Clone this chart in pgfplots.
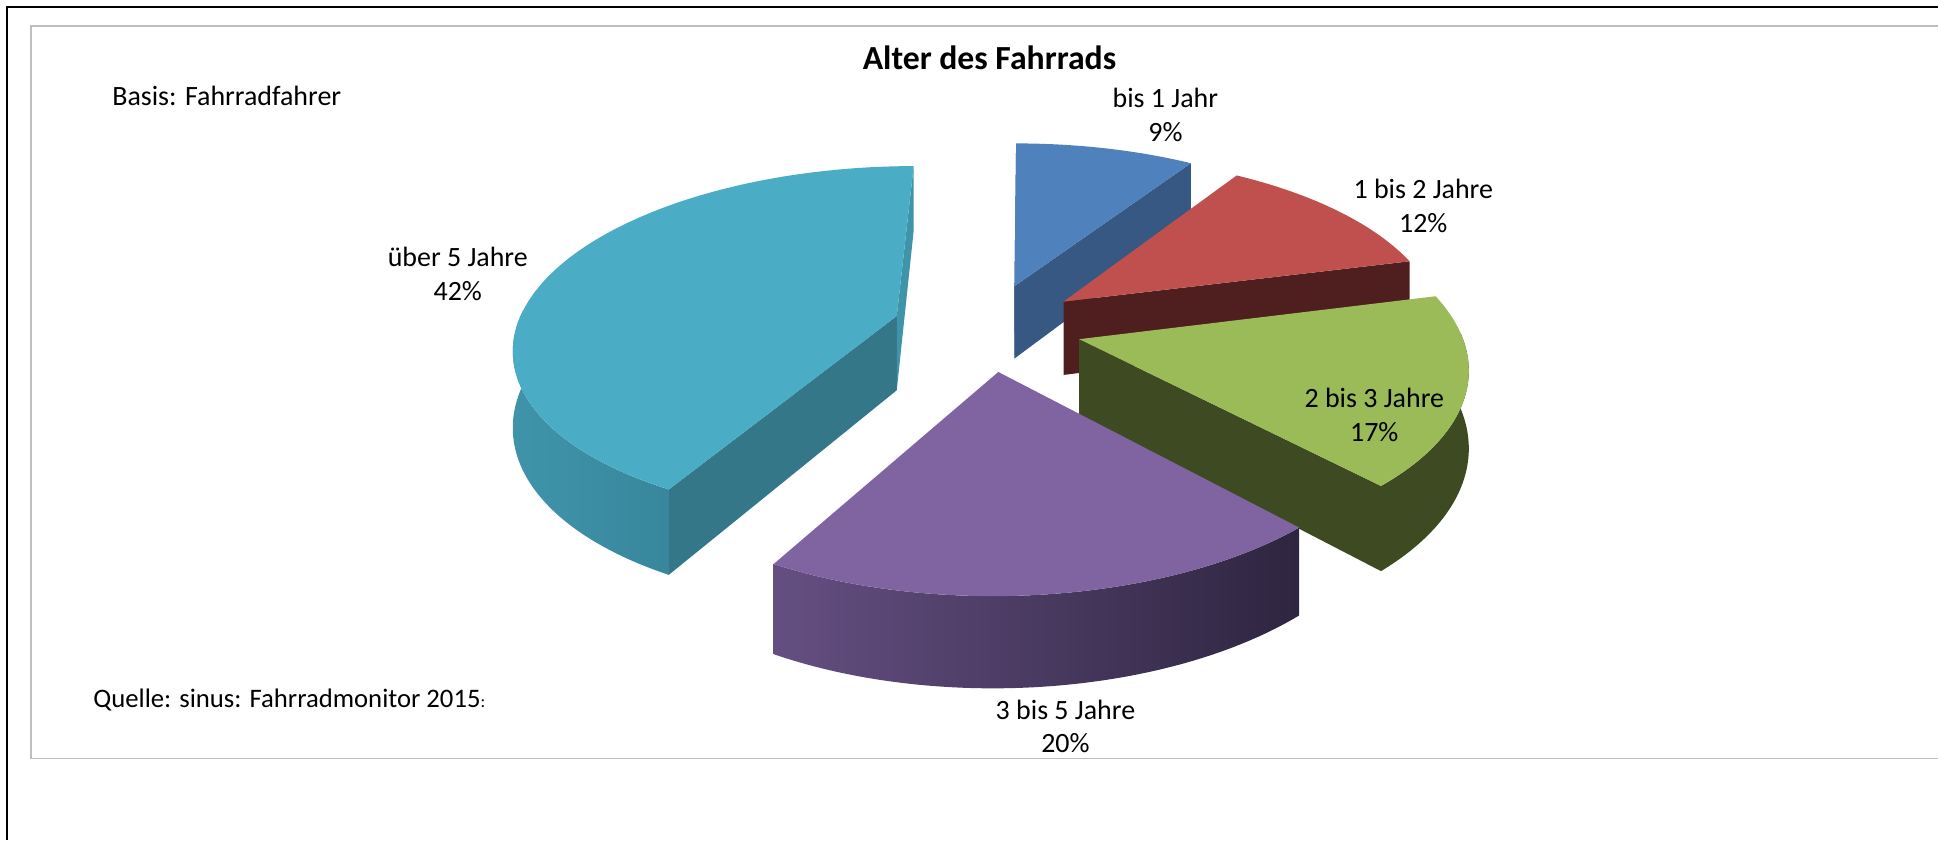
\documentclass[border=0pt]{standalone}
\usepackage{pgfplots}
\pgfplotsset{compat=1.18}
\usepackage{pgfplotstable}
\usepackage{fontspec}
\setmainfont{Carlito}

\definecolor{cBlue}{HTML}{4F81BD}
\definecolor{cBlueD}{HTML}{365882}
\definecolor{cRed}{HTML}{C0504D}
\definecolor{cRedD}{HTML}{4F1F20}
\definecolor{cGreen}{HTML}{9BBB59}
\definecolor{cGreenD}{HTML}{3E4B22}
\definecolor{cPurple}{HTML}{8064A2}
\definecolor{cPurpleL}{HTML}{654F82}
\definecolor{cPurpleD}{HTML}{2E2540}
\definecolor{cCyan}{HTML}{4BACC6}
\definecolor{cCyanD}{HTML}{347788}
\definecolor{cCyanL}{HTML}{3F94AA}
\definecolor{cCyanM}{HTML}{38879C}
\definecolor{frameGray}{HTML}{BEBEBE}

\pgfplotstableread{
idx value
0 9
1 12
2 17
3 20
4 42
}\piedata

\tikzset{declare function={
  pieX(\pX,\pZ)=988+380*\pX/(1+0.15*\pZ)-40*(1/(1+0.15*\pZ)-1);
  pieY(\pZ,\pH)=327+(-175.5*\pZ+75*\pH)/(1+0.15*\pZ);
  offX(\pa,\pb)=0.25*sin((\pa+\pb)/2);
  offZ(\pa,\pb)=0.25*cos((\pa+\pb)/2);
  rimX(\pa,\pb,\pt,\pr)=pieX(offX(\pa,\pb)+\pr*sin(\pt),offZ(\pa,\pb)+\pr*cos(\pt));
  rimY(\pa,\pb,\pt,\pr,\ph)=pieY(offZ(\pa,\pb)+\pr*cos(\pt),\ph);
}}

% top face of a slice from angle #1 to #2
\newcommand\slicetop[3]{%
  \path[#3] (axis cs:{rimX(#1,#2,0,0)},{rimY(#1,#2,0,0,0)})
    -- plot[domain=#1:#2,samples=60,variable=\t] (axis cs:{rimX(#1,#2,\t,1)},{rimY(#1,#2,\t,1,0)})
    -- cycle;}
% radial face at angle #3
\newcommand\sliceface[4]{%
  \path[#4] (axis cs:{rimX(#1,#2,0,0)},{rimY(#1,#2,0,0,0)})
    -- (axis cs:{rimX(#1,#2,#3,1)},{rimY(#1,#2,#3,1,0)})
    -- (axis cs:{rimX(#1,#2,#3,1)},{rimY(#1,#2,#3,1,1)})
    -- (axis cs:{rimX(#1,#2,0,0)},{rimY(#1,#2,0,0,1)})
    -- cycle;}
% curved outer side between #3 and #4
\newcommand\sliceband[5]{%
  \path[#5] plot[domain=#3:#4,samples=50,variable=\t] (axis cs:{rimX(#1,#2,\t,1)},{rimY(#1,#2,\t,1,0)})
    -- plot[domain=#4:#3,samples=50,variable=\t] (axis cs:{rimX(#1,#2,\t,1)},{rimY(#1,#2,\t,1,1)})
    -- cycle;}

\begin{document}%
\begin{tikzpicture}
\pgfplotstablegetelem{0}{value}\of\piedata\let\vA\pgfplotsretval
\pgfplotstablegetelem{1}{value}\of\piedata\let\vB\pgfplotsretval
\pgfplotstablegetelem{2}{value}\of\piedata\let\vC\pgfplotsretval
\pgfplotstablegetelem{3}{value}\of\piedata\let\vD\pgfplotsretval
\pgfplotstablegetelem{4}{value}\of\piedata\let\vE\pgfplotsretval
\pgfmathsetmacro\aA{0}
\pgfmathsetmacro\aB{\aA+3.6*\vA}
\pgfmathsetmacro\aC{\aB+3.6*\vB}
\pgfmathsetmacro\aD{\aC+3.6*\vC}
\pgfmathsetmacro\aE{\aD+3.6*\vD}
\pgfmathsetmacro\aF{\aE+3.6*\vE}
\begin{axis}[
  scale only axis, width=19.39cm, height=8.4cm,
  xmin=0, xmax=1939, ymin=0, ymax=840, y dir=reverse,
  hide axis, clip=false,
]
\path (axis cs:0,0) rectangle (axis cs:1939,840);
% frames
\draw[black, line width=0.2mm] (axis cs:7,840) -- (axis cs:7,7) -- (axis cs:1939,7);
\draw[frameGray, line width=0.15mm] (axis cs:1939,26) -- (axis cs:31,26) -- (axis cs:31,759) -- (axis cs:1939,759);

% slice 1: bis 1 Jahr
\sliceface{\aA}{\aB}{\aA}{fill=cBlueD}
\sliceface{\aA}{\aB}{\aB}{fill=cBlueD}
\slicetop{\aA}{\aB}{fill=cBlue}
% slice 2: 1 bis 2 Jahre
\sliceface{\aB}{\aC}{\aC}{fill=cRedD}
\slicetop{\aB}{\aC}{fill=cRed}
% slice 5: ueber 5 Jahre
\sliceface{\aE}{\aF}{\aE}{fill=cCyanD}
\sliceface{\aE}{\aF}{\aF}{fill=cCyanL}
\sliceband{\aE}{\aF}{\aE}{272}{left color=cCyanL,right color=cCyanM}
\slicetop{\aE}{\aF}{fill=cCyan}
% slice 3: 2 bis 3 Jahre
\sliceface{\aC}{\aD}{\aD}{fill=cGreenD}
\sliceband{\aC}{\aD}{88}{\aD}{fill=cGreenD}
\slicetop{\aC}{\aD}{fill=cGreen}
% slice 4: 3 bis 5 Jahre
\sliceband{\aD}{\aE}{\aD}{\aE}{left color=cPurpleL,right color=cPurpleD}
\slicetop{\aD}{\aE}{fill=cPurple}

% texts
\node[font=\fontsize{9.6}{11.5}\selectfont\bfseries] at (axis cs:990,58) {Alter des Fahrrads};
\node[anchor=west, font=\fontsize{7.95}{9.6}\selectfont] at (axis cs:100,96) {Basis: Fahrradfahrer};
\node[anchor=west, font=\fontsize{7.6}{9.2}\selectfont] at (axis cs:81,700) {Quelle: sinus: Fahrradmonitor 2015{\fontsize{5}{6}\selectfont:}};
\tikzset{lbl/.style={align=center, inner sep=0pt, font=\fontsize{7.95}{9.5}\selectfont}}
\node[lbl] at (axis cs:1166,115) {bis 1 Jahr\\9\%};
\node[lbl] at (axis cs:1424,206) {1 bis 2 Jahre\\12\%};
\node[lbl] at (axis cs:1375,415) {2 bis 3 Jahre\\17\%};
\node[lbl] at (axis cs:1066,727) {3 bis 5 Jahre\\20\%};
\node[lbl] at (axis cs:458,274) {über 5 Jahre\\42\%};
\end{axis}
\end{tikzpicture}%
\end{document}
